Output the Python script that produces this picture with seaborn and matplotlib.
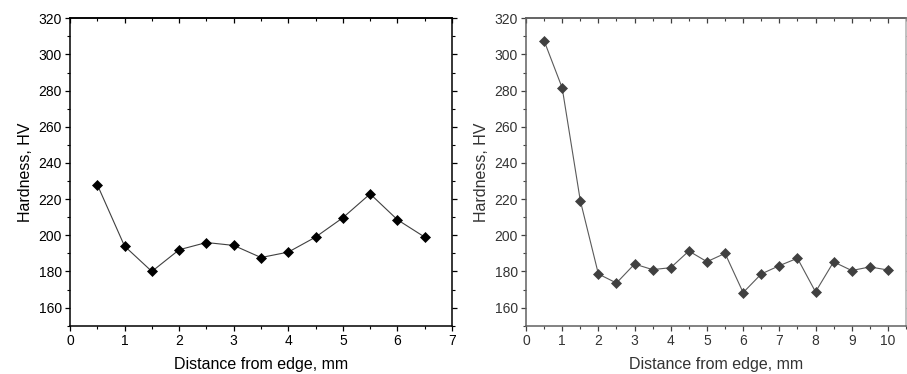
import matplotlib
matplotlib.use("Agg")
import matplotlib.pyplot as plt
from matplotlib.ticker import MultipleLocator
import seaborn as sns
import pandas as pd

sns.set_style("white")
plt.rcParams['font.family'] = ['Liberation Sans', 'DejaVu Sans']

# Left panel data
left_dist = [0.5, 1.0, 1.5, 2.0, 2.5, 3.0, 3.5, 4.0, 4.5, 5.0, 5.5, 6.0, 6.5]
left_hv = [228, 194, 180, 192, 196, 194.4, 187.7, 190.7, 199, 209.7, 222.9, 208.6, 199]

# Right panel data
right_dist = [0.5, 1.0, 1.5, 2.0, 2.5, 3.0, 3.5, 4.0, 4.5, 5.0,
              5.5, 6.0, 6.5, 7.0, 7.5, 8.0, 8.5, 9.0, 9.5, 10.0]
right_hv = [307.6, 281.5, 219.2, 178.6, 173.6, 184.1, 181, 182.1, 191.3, 185.4,
            190, 168.3, 178.6, 183.2, 187.3, 168.7, 185.3, 180.5, 182.5, 180.8]

xlabel = "Distance from edge, mm"
ylabel = "Hardness, HV"

fig = plt.figure(figsize=(9.07, 3.74), dpi=100)
W, H = 907, 374
ax1 = fig.add_axes([70 / W, (H - 325.7) / H, 382 / W, 307.4 / H])
ax2 = fig.add_axes([526 / W, (H - 325.7) / H, 380 / W, 307.4 / H])


def style(ax, xmax, xmajor, spine_color, text_color, tick_color):
    ax.set_xlim(0, xmax)
    ax.set_ylim(150, 320)
    ax.xaxis.set_major_locator(MultipleLocator(xmajor))
    ax.xaxis.set_minor_locator(MultipleLocator(xmajor / 2))
    ax.yaxis.set_major_locator(MultipleLocator(20))
    ax.yaxis.set_minor_locator(MultipleLocator(10))
    ax.set_yticks(range(160, 321, 20))
    for s in ax.spines.values():
        s.set_visible(True)
        s.set_color(spine_color)
        s.set_linewidth(1.1)
    ax.tick_params(axis='both', which='major', direction='out', length=3.8, width=0.9,
                   color=tick_color, labelsize=10, labelcolor=text_color, pad=2)
    ax.tick_params(axis='both', which='minor', direction='out', length=2.2, width=0.8,
                   color=tick_color)
    ax.tick_params(axis='y', which='both', left=True, right=True)
    ax.tick_params(axis='x', which='both', bottom=True, top=False)
    top = ax.secondary_xaxis('top')
    top.xaxis.set_major_locator(MultipleLocator(xmajor))
    top.xaxis.set_minor_locator(MultipleLocator(xmajor / 2))
    top.tick_params(which='major', direction='in', length=3.8, width=0.9,
                    color=tick_color, labeltop=False)
    top.tick_params(which='minor', direction='in', length=2.2, width=0.8,
                    color=tick_color)
    top.spines['top'].set_color(spine_color)
    top.spines['top'].set_linewidth(1.1)
    ax.set_xlabel(xlabel, fontsize=11.5, color=text_color, labelpad=6.5)
    ax.set_ylabel(ylabel, fontsize=11.5, color=text_color, labelpad=4)


df1 = pd.DataFrame({"dist": left_dist, "hv": left_hv})
df2 = pd.DataFrame({"dist": right_dist, "hv": right_hv})

sns.lineplot(data=df1, x="dist", y="hv", ax=ax1, color="#404040", linewidth=0.8,
             marker="D", markersize=5, markerfacecolor="black",
             markeredgecolor="black", markeredgewidth=0.5)
sns.lineplot(data=df2, x="dist", y="hv", ax=ax2, color="#5a5a5a", linewidth=0.8,
             marker="D", markersize=5, markerfacecolor="#404040",
             markeredgecolor="#404040", markeredgewidth=0.5)

style(ax1, 7, 1, "black", "black", "black")
style(ax2, 10.5, 1, "#606060", "#333333", "#404040")
ax2.set_xticks(range(0, 11))
ax2.spines['right'].set_color("#b0b0b0")

fig.savefig("out.png", dpi=100)
